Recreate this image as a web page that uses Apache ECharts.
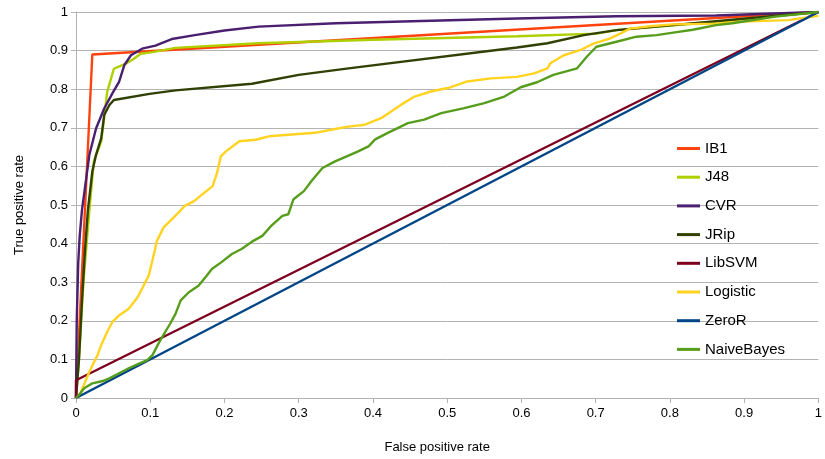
<!DOCTYPE html>
<html>
<head>
<meta charset="utf-8">
<script src="https://cdn.jsdelivr.net/npm/echarts@6/dist/echarts.min.js"></script>
<style>
  html, body { margin: 0; padding: 0; background: #fff; }
  #chart { width: 825px; height: 459px; }
</style>
</head>
<body>
<div id="chart"></div>
<script>
var seriesNames = ['IB1', 'J48', 'CVR', 'JRip', 'LibSVM', 'Logistic', 'ZeroR', 'NaiveBayes'];
var colors = ['#ff420e', '#aecf00', '#4b1f6f', '#314004', '#7e0021', '#ffd320', '#004586', '#579d1c'];

// [false positive rate, true positive rate]
var ib1 = [[0, 0], [0.022, 0.89], [1, 1]];
var j48 = [[0, 0], [0.004, 0.1], [0.01, 0.3], [0.018, 0.486], [0.024, 0.613], [0.034, 0.664], [0.042, 0.793], [0.051, 0.853], [0.067, 0.866], [0.078, 0.879], [0.087, 0.892], [0.103, 0.896], [0.134, 0.907], [0.246, 0.919], [0.4, 0.928], [0.594, 0.937], [0.701, 0.944], [0.728, 0.953], [0.858, 0.974], [1, 1]];
var cvr = [[0, 0], [0.001, 0.2], [0.003, 0.35], [0.005, 0.42], [0.008, 0.486], [0.018, 0.63], [0.027, 0.698], [0.038, 0.75], [0.049, 0.789], [0.058, 0.819], [0.065, 0.862], [0.074, 0.888], [0.089, 0.905], [0.107, 0.913], [0.129, 0.93], [0.16, 0.94], [0.2, 0.952], [0.246, 0.962], [0.35, 0.971], [0.594, 0.983], [0.728, 0.989], [0.862, 0.991], [1, 1]];
var jrip = [[0, 0], [0.004, 0.1], [0.008, 0.25], [0.012, 0.38], [0.016, 0.486], [0.022, 0.587], [0.027, 0.63], [0.034, 0.673], [0.038, 0.733], [0.045, 0.759], [0.051, 0.772], [0.099, 0.788], [0.134, 0.797], [0.237, 0.814], [0.3, 0.837], [0.367, 0.854], [0.594, 0.908], [0.635, 0.919], [0.684, 0.94], [0.728, 0.953], [1, 1]];
var libsvm = [[0, 0], [0, 0.046], [1, 1]];
var logistic = [[0, 0], [0.004, 0.004], [0.018, 0.068], [0.029, 0.111], [0.034, 0.137], [0.042, 0.171], [0.049, 0.197], [0.058, 0.214], [0.071, 0.231], [0.083, 0.261], [0.091, 0.291], [0.098, 0.317], [0.105, 0.373], [0.109, 0.407], [0.118, 0.442], [0.129, 0.463], [0.138, 0.48], [0.146, 0.497], [0.159, 0.51], [0.173, 0.532], [0.184, 0.549], [0.19, 0.583], [0.195, 0.626], [0.202, 0.639], [0.22, 0.665], [0.242, 0.669], [0.26, 0.678], [0.286, 0.682], [0.322, 0.687], [0.349, 0.697], [0.367, 0.703], [0.389, 0.708], [0.411, 0.725], [0.438, 0.76], [0.456, 0.781], [0.478, 0.794], [0.501, 0.803], [0.527, 0.82], [0.559, 0.828], [0.594, 0.832], [0.617, 0.841], [0.635, 0.854], [0.639, 0.867], [0.657, 0.888], [0.679, 0.901], [0.697, 0.918], [0.719, 0.931], [0.733, 0.944], [0.746, 0.957], [0.773, 0.963], [0.804, 0.968], [0.862, 0.97], [0.898, 0.975], [0.96, 0.979], [0.978, 0.984], [1, 0.99]];
var zeror = [[0, 0], [1, 1]];
var naiveBayes = [[0, 0], [0.004, 0.008], [0.011, 0.025], [0.022, 0.038], [0.036, 0.044], [0.045, 0.051], [0.058, 0.064], [0.071, 0.077], [0.085, 0.089], [0.096, 0.098], [0.103, 0.111], [0.11, 0.137], [0.116, 0.158], [0.127, 0.193], [0.134, 0.218], [0.141, 0.253], [0.152, 0.274], [0.165, 0.291], [0.176, 0.317], [0.183, 0.334], [0.196, 0.352], [0.21, 0.373], [0.223, 0.386], [0.237, 0.405], [0.251, 0.42], [0.264, 0.448], [0.278, 0.472], [0.286, 0.476], [0.293, 0.515], [0.307, 0.536], [0.318, 0.564], [0.332, 0.596], [0.349, 0.613], [0.367, 0.628], [0.38, 0.639], [0.394, 0.652], [0.403, 0.67], [0.42, 0.687], [0.434, 0.7], [0.447, 0.712], [0.469, 0.721], [0.492, 0.738], [0.523, 0.751], [0.55, 0.764], [0.577, 0.781], [0.599, 0.805], [0.621, 0.818], [0.643, 0.837], [0.675, 0.854], [0.688, 0.884], [0.701, 0.91], [0.728, 0.923], [0.755, 0.936], [0.782, 0.94], [0.809, 0.948], [0.831, 0.954], [0.862, 0.966], [0.884, 0.971], [0.942, 0.988], [1, 1]];

var seriesData = [ib1, j48, cvr, jrip, libsvm, logistic, zeror, naiveBayes];

var myChart = echarts.init(document.getElementById('chart'));

var axisFont = { color: '#000', fontFamily: 'Liberation Sans', fontSize: 13 };

option = {
    backgroundColor: '#fff',
    animation: false,
    color: colors,
    grid: {
        left: 76,
        right: 2,
        top: 12,
        bottom: 59
    },
    legend: {
        orient: 'vertical',
        left: 672,
        top: 136,
        icon: 'rect',
        itemWidth: 23,
        itemHeight: 3,
        itemGap: 13.7,
        textStyle: { color: '#000', fontFamily: 'Liberation Sans', fontSize: 15, lineHeight: 15 },
        data: seriesNames
    },
    xAxis: {
        type: 'value',
        min: 0,
        max: 1,
        interval: 0.1,
        name: 'False positive rate',
        nameLocation: 'middle',
        nameGap: 43,
        nameTextStyle: { color: '#000', fontFamily: 'Liberation Sans', fontSize: 13, padding: [0, 20, 0, 0] },
        axisLine: { lineStyle: { color: '#b3b3b3', width: 1 } },
        axisTick: { show: true, length: 5, lineStyle: { color: '#b3b3b3' } },
        axisLabel: Object.assign({ margin: 9 }, axisFont),
        splitLine: { show: false }
    },
    yAxis: {
        type: 'value',
        min: 0,
        max: 1,
        interval: 0.1,
        name: 'True positive rate',
        nameLocation: 'middle',
        nameGap: 50,
        nameTextStyle: { color: '#000', fontFamily: 'Liberation Sans', fontSize: 13 },
        axisLine: { show: true, lineStyle: { color: '#b3b3b3', width: 1 } },
        axisTick: { show: true, length: 5, lineStyle: { color: '#b3b3b3' } },
        axisLabel: Object.assign({ margin: 8 }, axisFont),
        splitLine: { show: true, lineStyle: { color: '#b3b3b3', width: 1 } }
    },
    series: seriesNames.map(function (name, i) {
        return {
            name: name,
            type: 'line',
            data: seriesData[i],
            showSymbol: false,
            symbol: 'none',
            lineStyle: { width: 2.4, color: colors[i] },
            itemStyle: { color: colors[i] }
        };
    })
};
myChart.setOption(option);
</script>
</body>
</html>
